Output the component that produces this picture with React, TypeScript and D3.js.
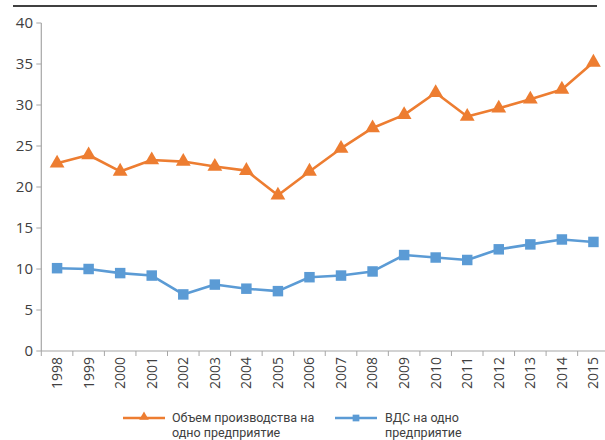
import React from "react";
import * as d3 from "d3";

const years = ["1998","1999","2000","2001","2002","2003","2004","2005","2006","2007","2008","2009","2010","2011","2012","2013","2014","2015"];
const output = [22.9,23.9,21.9,23.3,23.1,22.5,22.0,19.0,21.9,24.7,27.2,28.8,31.5,28.6,29.6,30.7,31.9,35.2];
const gva = [10.1,10.0,9.5,9.2,6.9,8.1,7.6,7.3,9.0,9.2,9.7,11.7,11.4,11.1,12.4,13.0,13.6,13.3];
const yTicks = [0,5,10,15,20,25,30,35,40];
const seriesNames = ["Объем производства на|одно предприятие", "ВДС на одно|предприятие"];

const W = 605, H = 440;
const ORANGE = "#ED7D31";
const BLUE = "#5B9BD5";
const FONT = "'Open Sans', 'Noto Sans', sans-serif";
const LFONT = "Roboto, 'Noto Sans', sans-serif";

export default function App() {
  const x0 = 41.3, bandW = 31.55;
  const x = d3.scaleBand<string>().domain(years).range([x0, x0 + bandW * years.length]).padding(0);
  const y = d3.scaleLinear().domain([0, 40]).range([351, 23]);
  const cx = (yr: string) => (x(yr) as number) + x.bandwidth() / 2;
  const line = d3.line<number>().x((_, i) => cx(years[i])).y((v) => y(v));
  const tri = d3.symbol().type(d3.symbolTriangle).size(95)();
  const sq = d3.symbol().type(d3.symbolSquare).size(110)();
  const triSmall = d3.symbol().type(d3.symbolTriangle).size(40)();
  const sqSmall = d3.symbol().type(d3.symbolSquare).size(45)();

  return (
    <svg width={W} height={H} style={{ position: "absolute", left: 0, top: 0 }} fontFamily={FONT}>
      <rect width={W} height={H} fill="#fff" />
      <line x1={13} x2={597} y1={6} y2={6} stroke="#000" strokeWidth={1.6} />
      {/* Y axis */}
      <line x1={x0} x2={x0} y1={y(40)} y2={y(0)} stroke="#A6A6A6" strokeWidth={1.2} />
      {yTicks.map((t) => (
        <g key={t}>
          <line x1={x0 - 5} x2={x0} y1={y(t)} y2={y(t)} stroke="#A6A6A6" strokeWidth={1} />
          <text x={33} y={y(t)} dy="0.35em" textAnchor="end" fontSize={15} fill="#404040">{t}</text>
        </g>
      ))}
      {/* X axis */}
      <line x1={x0} x2={W} y1={y(0)} y2={y(0)} stroke="#A6A6A6" strokeWidth={1.2} />
      {years.map((yr) => (
        <line key={"t" + yr} x1={x(yr) as number} x2={x(yr) as number} y1={y(0)} y2={y(0) + 5} stroke="#A6A6A6" strokeWidth={1} />
      ))}
      {years.map((yr) => (
        <text key={"l" + yr} transform={`translate(${cx(yr)},${y(0) + 6}) rotate(-90)`} textAnchor="end" dy="0.35em" fontSize={14} fill="#404040">{yr}</text>
      ))}
      {/* Series */}
      <path d={line(output) || ""} fill="none" stroke={ORANGE} strokeWidth={2.6} strokeLinejoin="round" />
      {output.map((v, i) => (
        <path key={"o" + i} d={tri || ""} transform={`translate(${cx(years[i])},${y(v)})`} fill={ORANGE} />
      ))}
      <path d={line(gva) || ""} fill="none" stroke={BLUE} strokeWidth={2.6} strokeLinejoin="round" />
      {gva.map((v, i) => (
        <path key={"g" + i} d={sq || ""} transform={`translate(${cx(years[i])},${y(v)})`} fill={BLUE} />
      ))}
      {/* Legend */}
      <g fontFamily={LFONT}>
        <line x1={123} x2={165} y1={418} y2={418} stroke={ORANGE} strokeWidth={2.6} />
        <path d={triSmall || ""} transform="translate(144,417)" fill={ORANGE} />
        {seriesNames[0].split("|").map((s, i) => (
          <text key={i} x={172} y={418 + i * 15} dy="0.35em" fontSize={12.5} fill="#404040">{s}</text>
        ))}
        <line x1={335} x2={377} y1={418} y2={418} stroke={BLUE} strokeWidth={2.6} />
        <path d={sqSmall || ""} transform="translate(356,418)" fill={BLUE} />
        {seriesNames[1].split("|").map((s, i) => (
          <text key={i} x={385} y={418 + i * 15} dy="0.35em" fontSize={12.5} fill="#404040">{s}</text>
        ))}
      </g>
    </svg>
  );
}
